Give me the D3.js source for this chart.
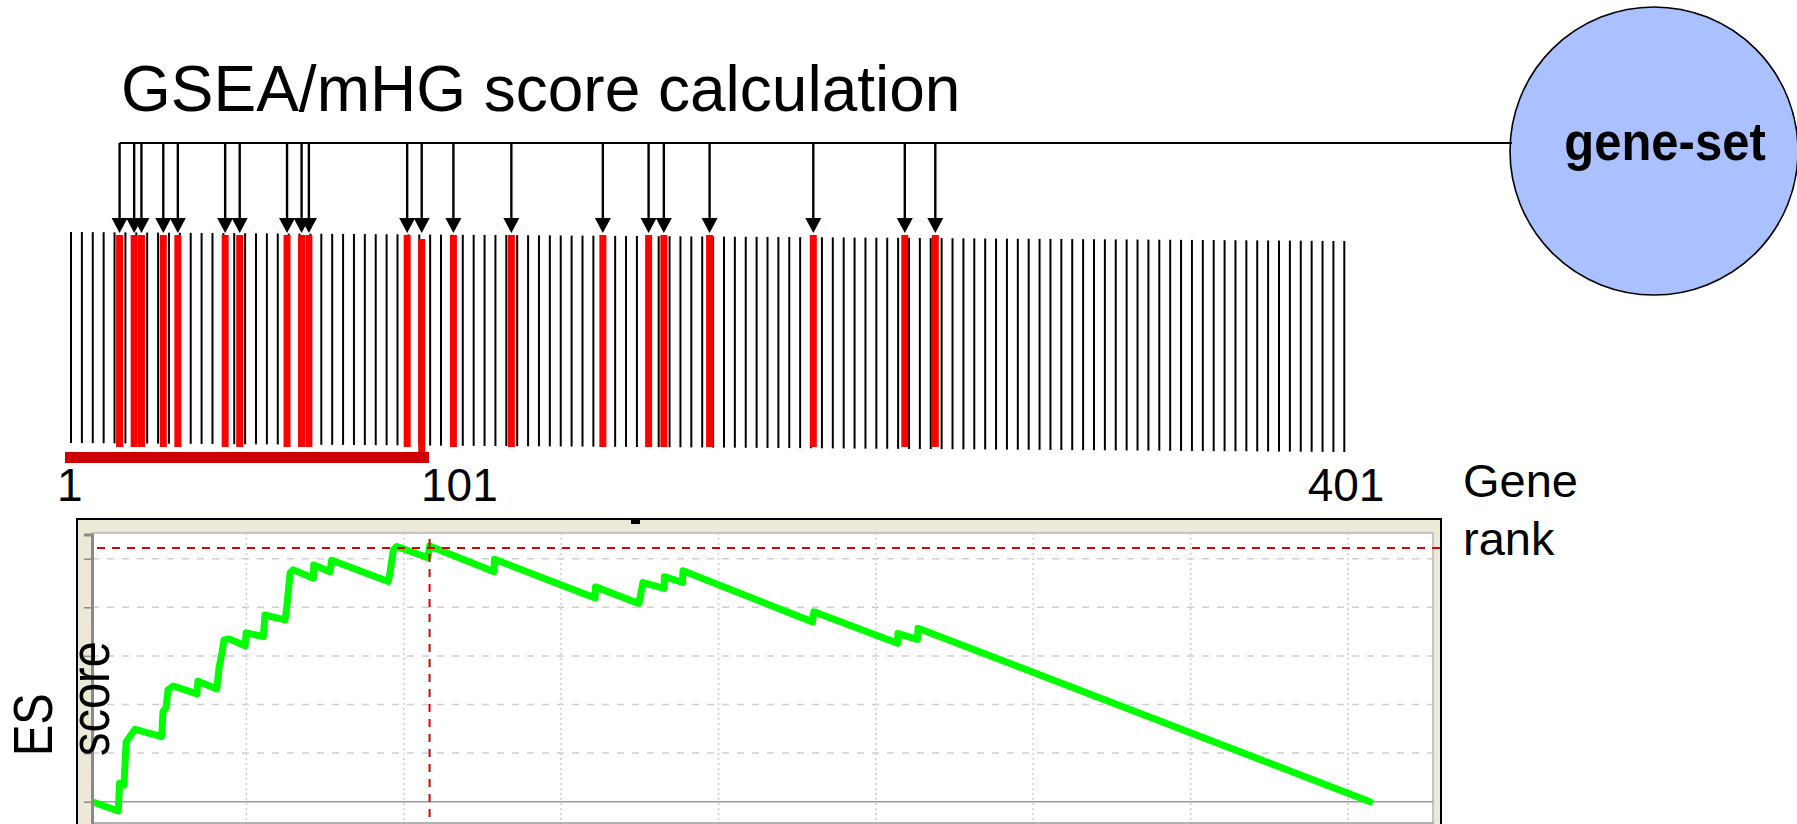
<!DOCTYPE html>
<html>
<head>
<meta charset="utf-8">
<script src="https://cdn.jsdelivr.net/npm/d3@7"></script>
<style>
  html, body { margin: 0; padding: 0; background: #fff; }
  svg { display: block; }
  text { font-family: "Liberation Sans", Arial, sans-serif; }
</style>
</head>
<body>
<svg id="chart" width="1797" height="824"></svg>
<script>
// ---------------- data ----------------
const title = "GSEA/mHG score calculation";
const geneSetLabel = "gene-set";
const geneTickCount = 118;                       // ranked genes drawn as black ticks
const hitRanks = [16, 20, 22, 28, 32, 45, 49, 62, 66, 68, 95, 99, 109, 128, 158, 173, 178, 193, 227, 257, 267];
const rankLabels = [1, 101, 401];
const cutoffRank = 101;
const axisTitle = ["Gene", "rank"];
const yTitle = ["ES", "score"];

// running enrichment score (rank, ES)
const esRanks = [1, 9.3, 9.7, 11.1, 11.8, 14.6, 23.1, 23.5, 24.5, 25.1, 26.8, 34.3, 34.6, 40.6, 41.3, 42.3, 42.9, 44.5,
  49.6, 49.9, 55.4, 55.9, 62.3, 62.9, 63.9, 64.9, 71.3, 71.4, 76.6, 77.1, 95.1, 95.6, 96.7, 97.8, 107.7, 108.2,
  128.7, 128.8, 160.8, 160.9, 174.7, 175.4, 176.0, 182.7, 182.8, 188.6, 188.7, 229.9, 230.3, 256.9, 257.0, 263.2, 263.4, 407.0];
const esScores = [0.000, -0.019, 0.038, 0.034, 0.123, 0.149, 0.134, 0.185, 0.193, 0.230, 0.238, 0.222, 0.248, 0.232, 0.275, 0.308, 0.333, 0.335,
  0.321, 0.347, 0.340, 0.384, 0.374, 0.405, 0.471, 0.477, 0.460, 0.487, 0.473, 0.497, 0.453, 0.471, 0.518, 0.525, 0.502, 0.526,
  0.473, 0.499, 0.419, 0.442, 0.408, 0.431, 0.451, 0.439, 0.463, 0.451, 0.475, 0.370, 0.391, 0.326, 0.346, 0.334, 0.357, 0.000];
const yTickValues = [0, 0.1, 0.2, 0.3, 0.4, 0.5];
const xGridRanks = [50, 100, 150, 200, 250, 300, 350, 400];

// ---------------- layout ----------------
const svg = d3.select("#chart");

// strip scales
const xStrip = d3.scaleLinear().domain([1, 101, 401]).range([65, 429, 1344]);
const xTick = d3.scaleLinear().domain([0, geneTickCount - 1]).range([71, 1344.3]);
const drift = d3.scaleLinear().domain([0, geneTickCount - 1]).range([0, 9]);

// title
svg.append("text").attr("x", 121).attr("y", 111)
  .attr("font-size", 64).attr("fill", "#000").text(title);

// gene-set circle
svg.append("ellipse").attr("cx", 1654).attr("cy", 151).attr("rx", 144).attr("ry", 144)
  .attr("fill", "#aac0ff").attr("stroke", "#000").attr("stroke-width", 1.6);
svg.append("text").attr("transform", "translate(1665,160) scale(1,1.1)")
  .attr("text-anchor", "middle")
  .attr("font-size", 49).attr("font-weight", "bold").text(geneSetLabel);

// horizontal connector
const lineY = 143;
svg.append("line").attr("x1", xStrip(hitRanks[0])).attr("x2", 1512)
  .attr("y1", lineY).attr("y2", lineY).attr("stroke", "#000").attr("stroke-width", 2);

// black gene ticks
svg.append("g").selectAll("line").data(d3.range(geneTickCount)).join("line")
  .attr("x1", d => xTick(d)).attr("x2", d => xTick(d))
  .attr("y1", d => 232 + drift(d)).attr("y2", d => 443 + drift(d))
  .attr("stroke", "#000").attr("stroke-width", 2);

// red hit bars
const lastHitBeforeCutoff = d3.max(hitRanks.filter(r => r <= cutoffRank));
svg.append("g").selectAll("rect").data(hitRanks).join("rect")
  .attr("x", d => xStrip(d) - 3.5)
  .attr("y", d => d === lastHitBeforeCutoff ? 239 : 235)
  .attr("width", 7)
  .attr("height", d => d === lastHitBeforeCutoff ? 214 : 212)
  .attr("fill", "#ff0000");

// arrows
const arrows = svg.append("g").selectAll("g").data(hitRanks).join("g");
arrows.append("line")
  .attr("x1", d => xStrip(d)).attr("x2", d => xStrip(d))
  .attr("y1", lineY).attr("y2", 220)
  .attr("stroke", "#000").attr("stroke-width", 2.4);
arrows.append("path")
  .attr("d", d => { const x = xStrip(d); return `M${x - 8},218L${x + 8},218L${x},233Z`; })
  .attr("fill", "#000");

// red cutoff bar
svg.append("rect").attr("x", xStrip(1)).attr("y", 452)
  .attr("width", xStrip(cutoffRank) - xStrip(1)).attr("height", 11)
  .attr("fill", "#cc0000");

// rank labels
svg.append("g").selectAll("text").data(rankLabels).join("text")
  .attr("x", (d, i) => xStrip(d) + (i === rankLabels.length - 1 ? 2 : -8))
  .attr("y", 501)
  .attr("text-anchor", (d, i) => i === rankLabels.length - 1 ? "middle" : "start")
  .attr("font-size", 46).text(d => d);

// Gene rank title
svg.append("g").selectAll("text").data(axisTitle).join("text")
  .attr("x", 1463).attr("y", (d, i) => 497 + i * 58)
  .attr("font-size", 47).text(d => d);

// ---------------- ES panel ----------------
const frame = { left: 77, top: 519, right: 1441 };
const inner = { left: 92, top: 533, right: 1433, bottom: 824 };

svg.append("rect").attr("x", frame.left).attr("y", frame.top)
  .attr("width", frame.right - frame.left).attr("height", 330)
  .attr("fill", "#ece9d8").attr("stroke", "#000").attr("stroke-width", 2);
svg.append("rect").attr("x", 631).attr("y", 518).attr("width", 9).attr("height", 6).attr("fill", "#000");

svg.append("rect").attr("x", inner.left).attr("y", inner.top)
  .attr("width", inner.right - inner.left).attr("height", inner.bottom - inner.top + 10)
  .attr("fill", "#fff").attr("stroke", "#b4b4b4").attr("stroke-width", 1.5);

const xES = d3.scaleLinear().domain([0, 427]).range([89, inner.right]);
const yES = d3.scaleLinear().domain([-0.05, 0.55]).range([826, 534.4]);

svg.append("clipPath").attr("id", "plotclip").append("rect")
  .attr("x", inner.left).attr("y", inner.top)
  .attr("width", inner.right - inner.left).attr("height", inner.bottom - inner.top + 10);

const plot = svg.append("g").attr("clip-path", "url(#plotclip)");

// horizontal grid (dashed)
plot.append("g").selectAll("line").data(yTickValues.filter(v => v !== 0)).join("line")
  .attr("x1", inner.left).attr("x2", inner.right)
  .attr("y1", d => yES(d)).attr("y2", d => yES(d))
  .attr("stroke", "#cfcfcf").attr("stroke-width", 1.5).attr("stroke-dasharray", "7,8");
// vertical grid (dotted)
plot.append("g").selectAll("line").data(xGridRanks).join("line")
  .attr("x1", d => xES(d)).attr("x2", d => xES(d))
  .attr("y1", inner.top).attr("y2", inner.bottom + 5)
  .attr("stroke", "#cfcfcf").attr("stroke-width", 1.6).attr("stroke-dasharray", "2,3");
// zero line
plot.append("line").attr("x1", inner.left).attr("x2", inner.right)
  .attr("y1", yES(0)).attr("y2", yES(0))
  .attr("stroke", "#999").attr("stroke-width", 1.5);
// bottom line
plot.append("line").attr("x1", inner.left).attr("x2", inner.right)
  .attr("y1", 823).attr("y2", 823).attr("stroke", "#999").attr("stroke-width", 1.5);

// left axis with ticks
const yAxis = d3.axisLeft(yES).tickValues(yTickValues).tickSize(8).tickFormat("");
const yAxisG = svg.append("g").attr("transform", `translate(${inner.left},0)`).call(yAxis);
yAxisG.select(".domain").attr("stroke", "#8a8a8a").attr("stroke-width", 3);
yAxisG.selectAll(".tick line").attr("stroke", "#8a8a8a").attr("stroke-width", 1.5);

// peak markers
const peakIdx = d3.maxIndex(esScores);
const peakRank = esRanks[peakIdx], peakES = esScores[peakIdx];
svg.append("line").attr("x1", 97).attr("x2", 1443)
  .attr("y1", yES(peakES) + 2).attr("y2", yES(peakES) + 2)
  .attr("stroke", "#dd0000").attr("stroke-width", 2).attr("stroke-dasharray", "8,7");
svg.append("line").attr("x1", xES(peakRank)).attr("x2", xES(peakRank))
  .attr("y1", 539).attr("y2", 830)
  .attr("stroke", "#dd0000").attr("stroke-width", 2).attr("stroke-dasharray", "8,7");

// ES curve
const esData = esRanks.map((r, i) => ({ r, v: esScores[i] }));
plot.append("path").datum(esData)
  .attr("d", d3.line().x(d => xES(d.r)).y(d => yES(d.v)))
  .attr("fill", "none").attr("stroke", "#00ff00").attr("stroke-width", 7)
  .attr("stroke-linejoin", "round").attr("stroke-linecap", "round");

// y title (rotated, slightly tall glyphs as in the original)
svg.append("text").attr("transform", "translate(52,756) rotate(-90) scale(1,1.18)")
  .attr("font-size", 47).text(yTitle[0]);
svg.append("text").attr("transform", "translate(109,756) rotate(-90) scale(1,1.18)")
  .attr("font-size", 47).text(yTitle[1]);
</script>
</body>
</html>
